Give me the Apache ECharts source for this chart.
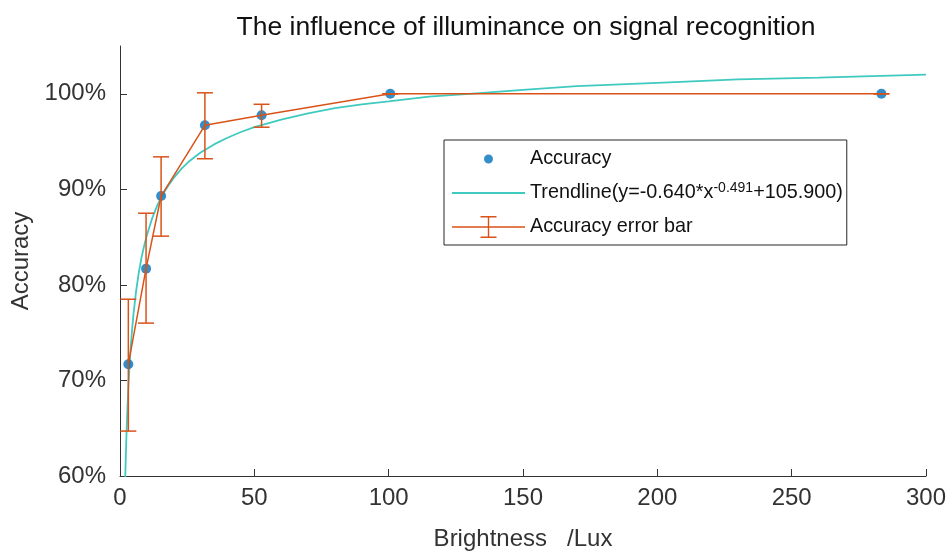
<!DOCTYPE html>
<html>
<head>
<meta charset="utf-8">
<script src="https://cdn.jsdelivr.net/npm/echarts@6/dist/echarts.min.js"></script>
<style>
html,body{margin:0;padding:0;background:#fff;}
#chart{width:950px;height:556px;}
</style>
</head>
<body>
<div id="chart"></div>
<script>
// ---- data ----
const brightness = [3.1, 9.7, 15.3, 31.6, 52.7, 100.6, 283.4];
const accuracy   = [71.7, 81.7, 89.3, 96.7, 97.75, 100, 100];
const errLow     = [64.7, 76.0, 85.1, 93.2, 96.5, 100, 100];
const errHigh    = [78.5, 87.5, 93.4, 100.1, 98.9, 100, 100];

const trendX = [1.95, 2.2, 2.5, 2.8, 3.2, 3.6, 4, 4.5, 5, 6, 7, 8, 9, 10, 12, 14, 16, 18, 20, 23, 26, 30, 35, 40, 45, 50, 60, 70, 80, 90, 100, 115, 130, 150, 170, 200, 230, 260, 300];
const trendY = [59.8, 62.4, 65.1, 67.3, 69.75, 71.8, 73.5, 75.3, 76.9, 79.35, 81.3, 82.85, 84.1, 85.2, 87.0, 88.4, 89.5, 90.4, 91.2, 92.2, 93.0, 93.85, 94.7, 95.4, 96.0, 96.5, 97.3, 97.95, 98.5, 98.9, 99.2, 99.7, 100.0, 100.4, 100.8, 101.15, 101.5, 101.7, 102.0];

const xTicks = [0, 50, 100, 150, 200, 250, 300];
const yTicks = [60, 70, 80, 90, 100];

const titleText = 'The influence of illuminance on signal recognition';
const xName = 'Brightness   /Lux';
const yName = 'Accuracy';
const nameAcc = 'Accuracy';
const nameTrend = 'Trendline';
const nameErr = 'Accuracy error bar';

// ---- build ----
const BLUE = '#0072BD', ORANGE = '#D95319', CYAN = '#3FCAC0';
const FONT = '"Liberation Sans", Arial, Helvetica, sans-serif';

const scatterData = brightness.map((x, i) => [x, accuracy[i]]);
const trendData = trendX.map((x, i) => [x, trendY[i]]);
const errData = brightness.map((x, i) => [x, errLow[i], errHigh[i]]);

const iconDot = 'path://M0,0 L0.01,0 Z M73,22 L72.99,22 Z M32,11 A4.5,4.5 0 1 1 41,11 A4.5,4.5 0 1 1 32,11 Z';
const iconLine = 'path://M0,0 L0.01,0 Z M73,22 L72.99,22 Z M0,10.1 L73,10.1 L73,11.9 L0,11.9 Z';
const iconErr = 'path://M0,10.3 L73,10.3 L73,11.7 L0,11.7 Z M35.8,0 L37.2,0 L37.2,22 L35.8,22 Z M28.5,0 L44.5,0 L44.5,1.4 L28.5,1.4 Z M28.5,20.6 L44.5,20.6 L44.5,22 L28.5,22 Z';

const chart = echarts.init(document.getElementById('chart'), null, {renderer: 'canvas'});
chart.setOption({
  animation: false,
  backgroundColor: '#fff',
  textStyle: {fontFamily: FONT},
  title: {
    text: titleText,
    left: 521,
    top: 9,
    textAlign: 'center',
    textStyle: {fontFamily: FONT, fontSize: 26.5, fontWeight: 'normal', color: '#111'}
  },
  grid: {left: 120, right: 24, top: 46, bottom: 71, containLabel: false},
  legend: {
    orient: 'vertical',
    left: 444,
    top: 140,
    padding: [7, 4, 6, 8],
    itemWidth: 73,
    itemHeight: 22,
    itemGap: 10,
    borderColor: '#262626',
    borderWidth: 1,
    backgroundColor: '#fff',
    itemStyle: {borderWidth: 0},
    selectedMode: false,
    data: [
      {name: nameAcc, icon: iconDot},
      {name: nameTrend, icon: iconLine},
      {name: nameErr, icon: iconErr}
    ],
    formatter: function (name) {
      if (name === nameTrend) {
        return 'Trendline(y=-0.640*x{sup|-0.491}+105.900)';
      }
      return name;
    },
    textStyle: {
      fontFamily: FONT, fontSize: 19.8, color: '#111', lineHeight: 24,
      rich: {
        sup: {fontFamily: FONT, fontSize: 14, color: '#111', lineHeight: 14, verticalAlign: 'top'}
      }
    }
  },
  xAxis: {
    type: 'value',
    min: 0, max: 300, interval: 50,
    name: xName,
    nameLocation: 'middle',
    nameGap: 51,
    nameTextStyle: {fontFamily: FONT, fontSize: 24, color: '#333'},
    axisLine: {show: true, onZero: false, lineStyle: {color: '#333', width: 1}},
    axisTick: {show: true, inside: true, length: 7, lineStyle: {color: '#333'}, customValues: xTicks},
    axisLabel: {fontFamily: FONT, fontSize: 24, color: '#333', margin: 10, customValues: xTicks},
    splitLine: {show: false}
  },
  yAxis: {
    type: 'value',
    min: 60, max: 105, interval: 10,
    name: yName,
    nameLocation: 'middle',
    nameGap: 84,
    nameRotate: 90,
    nameTextStyle: {fontFamily: FONT, fontSize: 24, color: '#333'},
    axisLine: {show: true, onZero: false, lineStyle: {color: '#333', width: 1}},
    axisTick: {show: true, inside: true, length: 7, lineStyle: {color: '#333'}, customValues: yTicks},
    axisLabel: {fontFamily: FONT, fontSize: 24, color: '#333', margin: 14, formatter: '{value}%', customValues: yTicks},
    splitLine: {show: false}
  },
  series: [
    {
      name: nameTrend,
      type: 'line',
      data: trendData,
      showSymbol: false,
      symbol: 'none',
      smooth: false,
      lineStyle: {color: CYAN, width: 1.8},
      itemStyle: {color: CYAN},
      z: 2
    },
    {
      name: nameAcc,
      type: 'scatter',
      data: scatterData,
      symbol: 'circle',
      symbolSize: 10,
      itemStyle: {color: BLUE},
      z: 3
    },
    {
      name: nameErr,
      type: 'line',
      data: scatterData,
      showSymbol: false,
      symbol: 'none',
      lineStyle: {color: ORANGE, width: 1.5},
      itemStyle: {color: ORANGE},
      z: 4
    },
    {
      name: nameErr,
      type: 'custom',
      data: errData,
      encode: {x: 0, y: [1, 2]},
      itemStyle: {color: ORANGE},
      z: 4,
      clip: true,
      renderItem: function (params, api) {
        const x = api.value(0);
        const pLo = api.coord([x, api.value(1)]);
        const pHi = api.coord([x, api.value(2)]);
        const w = 8;
        const st = {stroke: ORANGE, lineWidth: 1.5, fill: null};
        return {
          type: 'group',
          children: [
            {type: 'line', shape: {x1: pLo[0], y1: pLo[1], x2: pHi[0], y2: pHi[1]}, style: st},
            {type: 'line', shape: {x1: pLo[0] - w, y1: pLo[1], x2: pLo[0] + w, y2: pLo[1]}, style: st},
            {type: 'line', shape: {x1: pHi[0] - w, y1: pHi[1], x2: pHi[0] + w, y2: pHi[1]}, style: st}
          ]
        };
      }
    }
  ]
});
</script>
</body>
</html>
